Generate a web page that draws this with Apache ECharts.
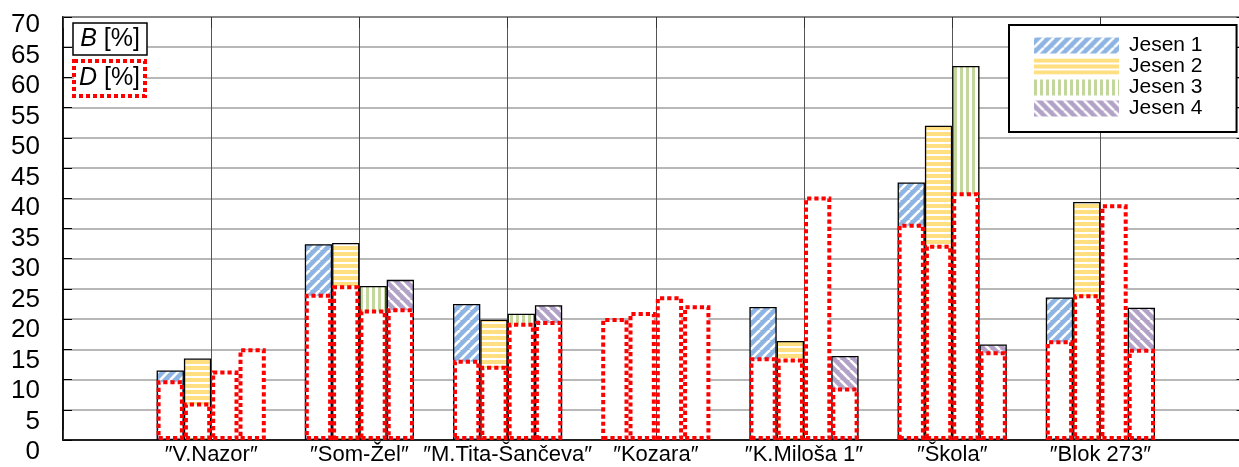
<!DOCTYPE html>
<html><head><meta charset="utf-8">
<script src="https://cdn.jsdelivr.net/npm/echarts@6/dist/echarts.min.js"></script>
<style>html,body{margin:0;padding:0;background:#fff}#c{width:1239px;height:467px}</style>
</head><body><div id="c"></div>
<script>
// ---- data ----
const categories = ['″V.Nazor″', '″Som-Žel″', '″M.Tita-Šančeva″', '″Kozara″', '″K.Miloša 1″', '″Škola″', '″Blok 273″'];
const seriesNames = ['Jesen 1', 'Jesen 2', 'Jesen 3', 'Jesen 4'];
// B [%] (null = not visible, lies below D)
const bJesen1 = [11.5, 32.4, 22.5, null, 22.0, 42.6, 23.6];
const bJesen2 = [13.5, 32.6, 19.9, null, 16.4, 52.0, 39.4];
const bJesen3 = [null, 25.5, 20.9, null, null, 61.9, null];
const bJesen4 = [null, 26.5, 22.3, null, 13.9, 15.8, 21.9];
// D [%]
const dJesen1 = [9.9, 24.2, 13.3, 20.2, 13.7, 35.8, 16.5];
const dJesen2 = [6.2, 25.6, 12.3, 21.2, 13.5, 32.3, 24.1];
const dJesen3 = [11.5, 21.6, 19.4, 23.8, 40.3, 41.0, 39.0];
const dJesen4 = [15.2, 21.8, 19.7, 22.3, 8.7, 14.7, 15.1];
const yMin = 0, yMax = 70, yInterval = 5;

// ---- styles ----
const FONT = 'Liberation Sans, Arial, sans-serif';
const colors = ['#8db4e2', '#ffdf80', '#c3d69b', '#b3a2c7'];
function makePattern(kind, color) {
  const c = document.createElement('canvas');
  const s = kind === 'diagR' || kind === 'diagL' ? 10 : 6;
  c.width = s; c.height = s;
  const g = c.getContext('2d');
  if (kind === 'diagR' || kind === 'diagL') {
    g.fillStyle = color; g.fillRect(0, 0, s, s);
    g.strokeStyle = '#fff'; g.lineWidth = 2.6;
    for (const x of [-s, 0, s]) {
      g.beginPath();
      if (kind === 'diagR') { g.moveTo(x, s); g.lineTo(x + s, 0); }
      else { g.moveTo(x, 0); g.lineTo(x + s, s); }
      g.stroke();
    }
  } else if (kind === 'horiz') {
    g.fillStyle = '#fff'; g.fillRect(0, 0, s, s);
    g.fillStyle = color; g.fillRect(0, 0, s, 4);
  } else {
    g.fillStyle = '#fff'; g.fillRect(0, 0, s, s);
    g.fillStyle = color; g.fillRect(0, 0, 3, s);
  }
  return { image: c, repeat: 'repeat' };
}
const patterns = [
  makePattern('diagR', colors[0]),
  makePattern('horiz', colors[1]),
  makePattern('vert', colors[2]),
  makePattern('diagL', colors[3])
];

const axisData = [''].concat(categories, ['']);
const pad = arr => [null].concat(arr, [null]);
const bData = [bJesen1, bJesen2, bJesen3, bJesen4];
const dData = [dJesen1, dJesen2, dJesen3, dJesen4];

const BAR_W = 27.3;
const series = [];
bData.forEach((arr, i) => {
  series.push({
    type: 'bar', name: seriesNames[i], xAxisIndex: 0, yAxisIndex: 0,
    data: pad(arr), barWidth: BAR_W, barGap: '0%', z: 2,
    itemStyle: { color: patterns[i], borderColor: '#000', borderWidth: 1.3 },
    emphasis: { disabled: true }, animation: false
  });
});
dData.forEach((arr, i) => {
  series.push({
    type: 'bar', name: 'D ' + seriesNames[i], xAxisIndex: 1, yAxisIndex: 0,
    data: pad(arr), barWidth: BAR_W, barGap: '0%', z: 3,
    itemStyle: { color: '#fff', borderColor: '#ff0000', borderWidth: 4, borderType: [4.2, 3] },
    emphasis: { disabled: true }, animation: false
  });
});

const chart = echarts.init(document.getElementById('c'), null, { renderer: 'canvas' });
chart.setOption({
  animation: false,
  backgroundColor: '#fff',
  textStyle: { fontFamily: FONT },
  grid: [
    { left: 63, top: 17, width: 1185.6, height: 423, show: true, borderColor: '#000', borderWidth: 1.5, outerBoundsMode: 'none', containLabel: false },
    { left: 63, top: 25, width: 10, height: 427, outerBoundsMode: 'none', containLabel: false }
  ],
  xAxis: [
    {
      type: 'category', gridIndex: 0, data: axisData, boundaryGap: false,
      axisLine: { lineStyle: { color: '#000', width: 1.5 } },
      axisTick: { show: true, inside: true, length: 10, interval: 0, lineStyle: { color: '#333' } },
      axisLabel: { interval: 0, fontSize: 22, color: '#000', margin: 4, fontFamily: FONT },
      splitLine: { show: true, interval: 0, lineStyle: { color: '#555', width: 1 } }
    },
    { type: 'category', gridIndex: 0, data: axisData, boundaryGap: false, show: false },
    {
      type: 'category', gridIndex: 0, data: axisData, boundaryGap: false, position: 'top',
      axisLine: { show: false }, axisLabel: { show: false }, splitLine: { show: false },
      axisTick: { show: true, inside: true, length: 11, interval: 0, lineStyle: { color: '#333' } }
    },
    { type: 'category', gridIndex: 1, data: [''], show: false }
  ],
  yAxis: [
    {
      type: 'value', gridIndex: 0, min: yMin, max: yMax, interval: yInterval,
      axisLine: { show: true, lineStyle: { color: '#000', width: 1.5 } },
      axisTick: { show: true, inside: true, length: 9, lineStyle: { color: '#000' } },
      axisLabel: { show: false },
      splitLine: { show: true, lineStyle: { color: '#a0a0a0', width: 1.6 } }
    },
    {
      type: 'value', gridIndex: 0, min: yMin, max: yMax, interval: yInterval, position: 'right',
      axisLine: { show: false }, axisLabel: { show: false }, splitLine: { show: false },
      axisTick: { show: true, inside: true, length: 12, lineStyle: { color: '#000' } }
    },
    {
      type: 'value', gridIndex: 1, min: yMin, max: yMax, interval: yInterval,
      axisLine: { show: false }, axisTick: { show: false }, splitLine: { show: false },
      axisLabel: { show: true, fontSize: 26, color: '#000', margin: 23, fontFamily: FONT }
    }
  ],
  legend: {
    data: seriesNames, orient: 'vertical', left: 1009, top: 25,
    padding: [10, 34, 13, 25], itemWidth: 85, itemHeight: 16, itemGap: 0,
    icon: 'rect', selectedMode: false,
    borderColor: '#000', borderWidth: 2, backgroundColor: '#fff',
    itemStyle: { borderWidth: 0 },
    textStyle: { fontSize: 21, color: '#000', lineHeight: 21, fontFamily: FONT, padding: [0, 0, 0, 5] }
  },
  graphic: [
    { type: 'rect', z: 10, shape: { x: 73, y: 23, width: 74, height: 32 }, style: { fill: '#fff', stroke: '#000', lineWidth: 1.5 } },
    { type: 'text', z: 11, x: 110, y: 39, style: { text: '{i|B} [%]', fontSize: 25, fontFamily: FONT, fill: '#000', align: 'center', verticalAlign: 'middle', rich: { i: { fontStyle: 'italic', fontSize: 25, fontFamily: FONT } } } },
    { type: 'rect', z: 10, shape: { x: 74, y: 61, width: 71, height: 35 }, style: { fill: '#fff', stroke: '#ff0000', lineWidth: 4, lineDash: [4, 3] } },
    { type: 'text', z: 11, x: 109.5, y: 78.5, style: { text: '{i|D} [%]', fontSize: 25, fontFamily: FONT, fill: '#000', align: 'center', verticalAlign: 'middle', rich: { i: { fontStyle: 'italic', fontSize: 25, fontFamily: FONT } } } }
  ],
  series: series
});
</script>
</body></html>
